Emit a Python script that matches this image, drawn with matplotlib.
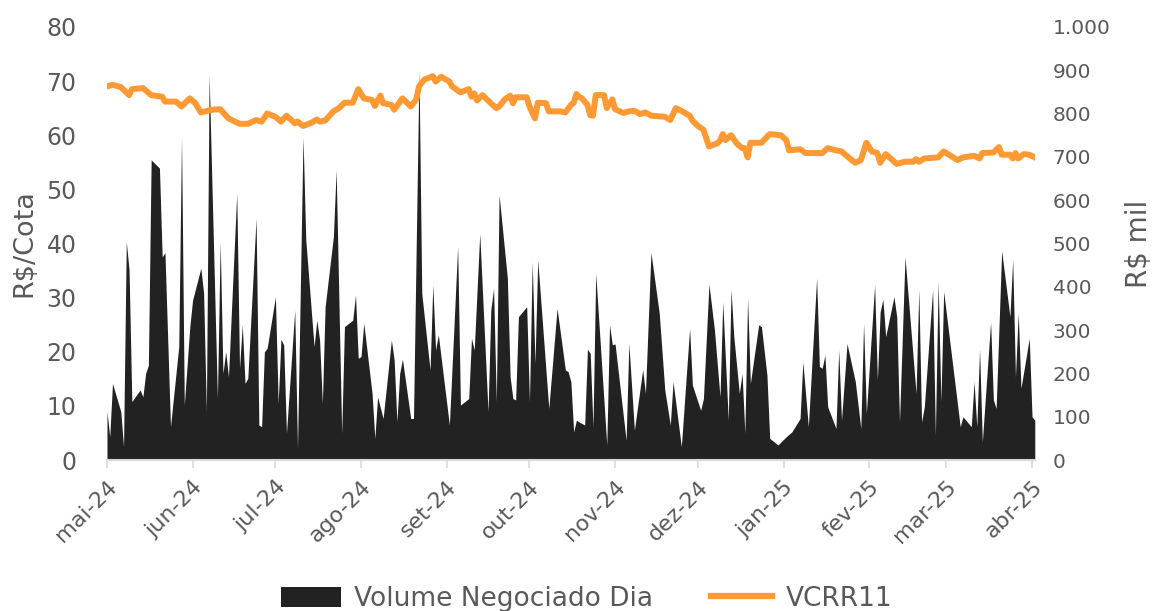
import numpy as np
import pandas as pd
import matplotlib
matplotlib.use("Agg")
import matplotlib.pyplot as plt
import matplotlib.dates as mdates
from matplotlib.patches import Patch
from matplotlib.lines import Line2D

# dias contados a partir de 01/05/2024
inicio = pd.Timestamp("2024-05-01")

# Volume negociado por dia (R$ mil)
vol_dias = [0, 1, 2, 5, 6, 7, 8, 9, 12, 13, 14, 15, 16, 19, 20, 21, 23, 26, 27, 28,
            30, 31, 34, 35, 36, 37, 40, 41, 42, 43, 44, 47, 48, 49, 50, 51, 54, 55, 56, 57,
            58, 61, 62, 63, 64, 65, 68, 69, 71, 72, 75, 76, 77, 78, 79, 82, 83, 85, 86, 89,
            90, 91, 92, 93, 96, 97, 98, 100, 103, 104, 105, 106, 107, 110, 111, 113, 114, 117, 118, 119,
            120, 124, 127, 128, 131, 132, 133, 135, 138, 139, 140, 141, 142, 145, 146, 147, 148, 149, 152, 153,
            154, 155, 156, 160, 163, 166, 167, 168, 169, 170, 171, 173, 174, 175, 176, 177, 181, 182, 183, 184,
            188, 189, 191, 194, 195, 197, 200, 202, 204, 205, 208, 211, 212, 215, 216, 218, 220, 222, 223, 225,
            226, 227, 229, 230, 231, 232, 233, 236, 237, 239, 240, 243, 246, 248, 251, 252, 254, 257, 258, 259,
            260, 261, 264, 265, 266, 268, 271, 273, 274, 275, 278, 279, 280, 281, 282, 285, 286, 287, 289, 293,
            294, 295, 296, 299, 300, 301, 302, 303, 309, 310, 313, 314, 315, 316, 317, 320, 321, 322, 324, 327,
            328, 329, 330, 331, 334, 335, 336]
vol_valores = [112, 54, 177, 112, 31, 504, 439, 135, 162, 146, 200, 219, 693, 674, 469, 479, 77, 262, 746, 127,
               308, 369, 443, 385, 112, 889, 142, 504, 200, 250, 192, 616, 212, 312, 177, 189, 558, 81, 77, 250,
               258, 377, 131, 279, 266, 62, 346, 27, 746, 508, 262, 323, 277, 131, 354, 516, 670, 62, 308, 323,
               381, 235, 239, 316, 154, 50, 146, 96, 277, 231, 88, 200, 233, 96, 96, 900, 385, 208, 404, 254,
               289, 81, 493, 127, 142, 281, 254, 523, 112, 346, 396, 135, 612, 420, 192, 142, 139, 331, 354, 135,
               458, 223, 462, 119, 350, 208, 204, 181, 65, 92, 88, 81, 256, 246, 77, 431, 35, 312, 266, 268,
               46, 269, 69, 209, 154, 479, 339, 162, 81, 181, 31, 304, 173, 115, 142, 406, 300, 146, 365, 92,
               393, 285, 154, 200, 62, 373, 177, 312, 308, 196, 50, 35, 54, 65, 96, 227, 77, 420, 216, 212,
               242, 123, 73, 254, 92, 269, 181, 73, 316, 108, 404, 185, 342, 371, 285, 377, 331, 88, 469, 154,
               394, 88, 123, 393, 58, 414, 135, 389, 77, 100, 77, 181, 77, 256, 42, 319, 139, 119, 483, 331,
               463, 192, 339, 166, 281, 100, 92]

# Cotacao VCRR11 (R$/cota)
preco_dias = [0, 2, 5, 8, 9, 13, 16, 20, 21, 25, 27, 30, 32, 34, 38, 41, 44, 48, 51, 54,
              56, 58, 61, 63, 65, 68, 69, 71, 74, 76, 77, 79, 82, 84, 86, 89, 91, 93, 96, 97,
              99, 100, 103, 104, 107, 110, 112, 113, 114, 115, 118, 119, 121, 124, 125, 128, 131, 132, 133, 134,
              136, 139, 141, 142, 144, 146, 147, 148, 152, 153, 155, 156, 159, 160, 164, 166, 168, 169, 170, 171,
              172, 174, 175, 176, 177, 180, 181, 183, 184, 187, 189, 191, 193, 195, 197, 202, 204, 206, 208, 211,
              212, 214, 216, 218, 221, 222, 223, 224, 226, 228, 230, 231, 232, 233, 237, 240, 244, 246, 247, 251,
              253, 259, 261, 264, 266, 269, 271, 273, 275, 277, 279, 280, 282, 284, 286, 289, 292, 293, 294, 296,
              301, 303, 308, 310, 314, 316, 317, 321, 323, 324, 327, 328, 329, 330, 332, 334, 336]
preco_valores = [69.0, 69.3, 68.9, 67.4, 68.5, 68.7, 67.4, 67.1, 66.2, 66.2, 65.3, 66.8, 65.9, 64.2, 64.7, 64.8, 63.1, 62.1, 62.1, 62.8,
                 62.5, 64.0, 63.4, 62.5, 63.6, 62.2, 62.5, 61.7, 62.3, 62.9, 62.5, 62.7, 64.4, 65.0, 66.0, 66.0, 68.5, 66.8, 66.5, 65.4,
                 67.3, 65.9, 65.6, 64.7, 66.8, 65.3, 66.6, 69.0, 69.7, 70.3, 70.9, 69.9, 70.8, 69.9, 69.0, 67.9, 68.5, 67.1, 67.7, 66.4,
                 67.4, 65.9, 65.0, 65.3, 66.6, 67.3, 65.9, 67.0, 67.0, 65.3, 63.1, 66.0, 65.9, 64.4, 64.4, 64.2, 65.6, 66.0, 67.6, 67.1,
                 66.8, 65.6, 63.7, 63.6, 67.4, 67.4, 65.0, 66.6, 64.8, 64.1, 64.4, 64.5, 63.9, 64.2, 63.6, 63.4, 62.8, 65.0, 64.5, 63.6,
                 62.7, 61.7, 61.0, 57.9, 58.5, 59.0, 60.2, 59.1, 60.0, 58.5, 57.6, 57.6, 55.9, 58.6, 58.6, 60.2, 60.0, 59.1, 57.2, 57.4,
                 56.7, 56.7, 57.6, 57.2, 57.0, 55.7, 54.9, 55.4, 58.6, 57.0, 56.7, 54.9, 56.5, 55.6, 54.7, 55.1, 55.1, 55.6, 55.1, 55.7,
                 55.9, 57.0, 55.4, 55.9, 56.2, 55.7, 56.7, 56.8, 57.8, 56.4, 56.4, 55.7, 56.7, 55.7, 56.5, 56.4, 55.9]

meses = pd.date_range("2024-05-01", "2025-04-01", freq="MS")
meses_labels = ["mai-24", "jun-24", "jul-24", "ago-24", "set-24", "out-24",
                "nov-24", "dez-24", "jan-25", "fev-25", "mar-25", "abr-25"]

vol_x = inicio + pd.to_timedelta(vol_dias, unit="D")
preco_x = inicio + pd.to_timedelta(preco_dias, unit="D")

cinza = "#595959"
laranja = "#FF9933"
preto = "#222222"

fig = plt.figure(figsize=(11.54, 6.11), dpi=100)
ax = fig.add_axes([0.0927, 0.247, 0.804, 0.709])
ax2 = ax.twinx()

ax2.fill_between(vol_x, vol_valores, 0, color=preto, lw=0)
ax.plot(preco_x, preco_valores, color=laranja, lw=4.3, solid_joinstyle="round")

# linha por cima da area
ax.set_zorder(ax2.get_zorder() + 1)
ax.patch.set_visible(False)

ax.set_ylim(0, 80)
ax.set_yticks(range(0, 81, 10))
ax2.set_ylim(0, 1000)
ax2.set_yticks(range(0, 1001, 100))
ax2.set_yticklabels([f"{v:,}".replace(",", ".") for v in range(0, 1001, 100)])

ax.set_xlim(inicio, inicio + pd.Timedelta(days=336))
ax.set_xticks(meses)
ax.set_xticklabels(meses_labels, rotation=45, ha="right", rotation_mode="anchor")

for a in (ax, ax2):
    for s in a.spines.values():
        s.set_visible(False)
ax.spines["bottom"].set_visible(True)
ax.spines["bottom"].set_color("#d9d9d9")
ax.spines["bottom"].set_linewidth(1.5)

ax.tick_params(axis="y", length=0, pad=22, labelsize=17, labelcolor=cinza)
ax2.tick_params(axis="y", length=0, pad=13, labelsize=14.5, labelcolor=cinza)
ax.tick_params(axis="x", length=6, width=1.2, color="#d9d9d9", pad=6, labelsize=16, labelcolor=cinza)

ax.set_ylabel("R$/Cota", fontsize=19.5, color=cinza, labelpad=6)
ax2.set_ylabel("R$ mil", fontsize=20, color=cinza, labelpad=10)

handles = [Patch(facecolor=preto, edgecolor="none"),
           Line2D([0], [0], color=laranja, lw=4.5)]
fig.legend(handles, ["Volume Negociado Dia", "VCRR11"], loc="center",
           bbox_to_anchor=(0.508, 0.02), ncol=2, frameon=False,
           prop={"size": 19}, labelcolor=cinza,
           handlelength=2.3, handleheight=0.8, columnspacing=2.2, handletextpad=0.5)

fig.savefig("out.png", dpi=100)
